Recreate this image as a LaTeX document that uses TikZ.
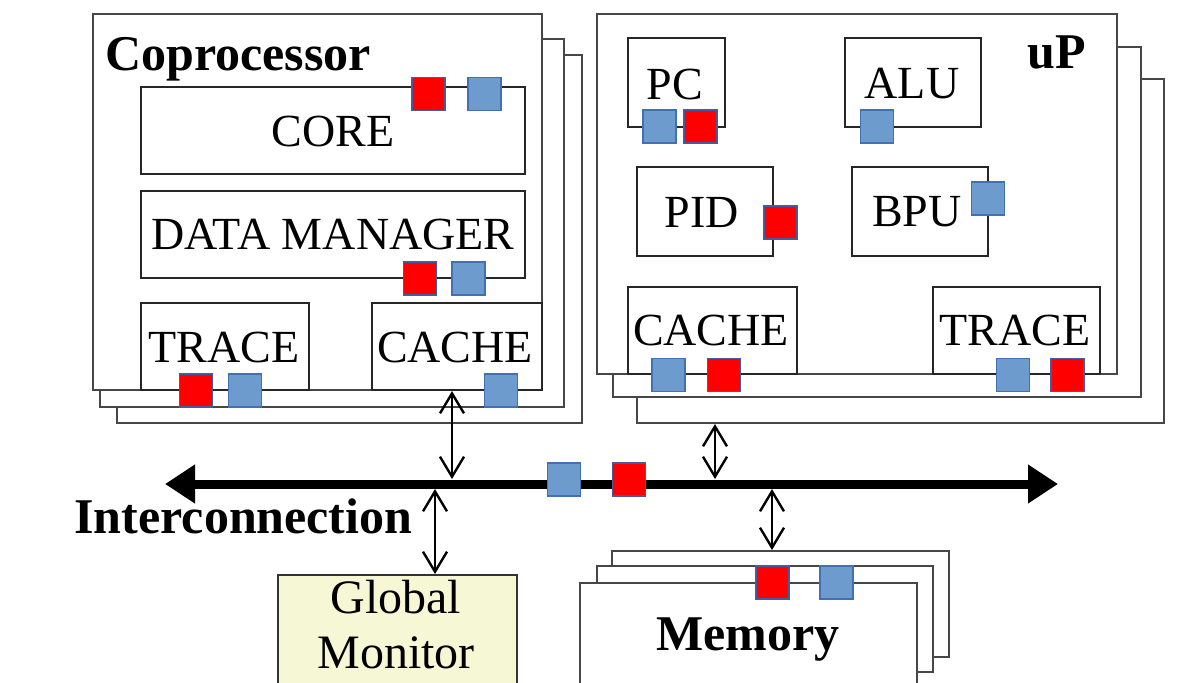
\documentclass[tikz,border=0pt]{standalone}
\usepackage{fontspec}
\setmainfont{Liberation Serif}
\usetikzlibrary{arrows.meta,fit}
\definecolor{redfill}{RGB}{255,0,0}
\definecolor{redborder}{RGB}{70,90,160}
\definecolor{bluefill}{RGB}{110,155,205}
\definecolor{blueborder}{RGB}{65,113,180}
\definecolor{gmfill}{RGB}{245,247,213}
\begin{document}
\begin{tikzpicture}[x=0.5pt,y=-0.5pt,
  frame/.style={draw=black!72,line width=1pt,fill=white,inner sep=0pt},
  box/.style={draw=black!85,line width=1pt,fill=white,inner sep=0pt},
  lbl/.style={font=\fontsize{23}{27}\selectfont,inner sep=0pt},
  ttl/.style={font=\fontsize{25}{30}\selectfont\bfseries,inner sep=0pt},
  rsq/.style={draw=redborder,fill=redfill,line width=0.8pt,minimum size=16.5pt,inner sep=0pt},
  bsq/.style={draw=blueborder,fill=bluefill,line width=0.8pt,minimum size=16.5pt,inner sep=0pt},
  dar/.style={{Straight Barb[length=10pt,width=12pt,line width=1.2pt]}-{Straight Barb[length=10pt,width=12pt,line width=1.2pt]},line width=0.8pt,draw=black},
  bus/.style={{Triangle[length=15pt,width=18.5pt]}-{Triangle[length=15pt,width=18.5pt]},line width=4.5pt}]
\useasboundingbox (0,0) rectangle (1196,682);

% ---------------- Coprocessor ----------------
\node[frame,fit={(117,55)(582,423)}] (cb3) {};
\node[frame,fit={(100,39)(564,407)}] (cb2) {};
\node[frame,fit={(93,14)(542,390)}] (cop) {};
\node[ttl,anchor=base west] (copT) at (105,70) {Coprocessor};

\node[box,fit={(141,87)(525,174)}] (core) {};
\node[lbl] (coreT) at (333,131) {CORE};
\node[box,fit={(141,191)(525,278)}] (dm) {};
\node[lbl] (dmT) at (333,234) {DATA MANAGER};
\node[box,fit={(141,303)(309,390)}] (ctr) {};
\node[lbl] (ctrT) at (224,347) {TRACE};
\node[box,fit={(372,303)(542,390)}] (cca) {};
\node[lbl] (ccaT) at (455,347) {CACHE};

\node[rsq] (s1) at (428.5,94) {};
\node[bsq] (s2) at (484.5,94) {};
\node[rsq] (s3) at (420,278.5) {};
\node[bsq] (s4) at (468.5,278.5) {};
\node[rsq] (s5) at (196,390.5) {};
\node[bsq] (s6) at (245,390.5) {};
\node[bsq] (s7) at (501,390.5) {};

% ---------------- uP ----------------
\node[frame,fit={(637,79)(1164,423)}] (ub3) {};
\node[frame,fit={(613,47)(1141,397)}] (ub2) {};
\node[frame,fit={(597,14)(1117,374)}] (up) {};
\node[ttl,anchor=base west] (upT) at (1027,68) {uP};

\node[box,fit={(628,38)(725,127)}] (pc) {};
\node[lbl] (pcT) at (675,84) {PC};
\node[box,fit={(845,38)(981,127)}] (alu) {};
\node[lbl] (aluT) at (912,84) {ALU};
\node[box,fit={(637,167)(773,256)}] (pid) {};
\node[lbl] (pidT) at (702,212) {PID};
\node[box,fit={(852,167)(988,256)}] (bpu) {};
\node[lbl] (bpuT) at (917,212) {BPU};
\node[box,fit={(628,287)(797,374)}] (uca) {};
\node[lbl] (ucaT) at (711,330) {CACHE};
\node[box,fit={(933,287)(1100,374)}] (utr) {};
\node[lbl] (utrT) at (1015,330) {TRACE};

\node[bsq] (u1) at (659.5,126.5) {};
\node[rsq] (u2) at (700.5,126.5) {};
\node[bsq] (u3) at (877,126.5) {};
\node[rsq] (u4) at (780.5,222.5) {};
\node[bsq] (u5) at (988,198.5) {};
\node[bsq] (u6) at (668.5,375) {};
\node[rsq] (u7) at (724,375) {};
\node[bsq] (u8) at (1013,375) {};
\node[rsq] (u9) at (1067.5,375) {};

% ---------------- Memory ----------------
\node[frame,fit={(612,551)(949,657)}] (mb3) {};
\node[frame,fit={(597,566)(933,672)}] (mb2) {};
\node[frame,fit={(580,583)(917,720)}] (mem) {};
\node[ttl,anchor=base] (memT) at (748,650) {Memory};
\node[rsq] (m1) at (772.5,582.5) {};
\node[bsq] (m2) at (836.5,582.5) {};

% ---------------- Global monitor ----------------
\node[draw=black!80,line width=1pt,fill=gmfill,inner sep=0pt,fit={(278,575)(517,720)}] (gm) {};
\node[font=\fontsize{24}{27.5}\selectfont,align=center,inner sep=0pt] (gmT) at (396,625) {Global\\Monitor};

% ---------------- Interconnection ----------------
\coordinate (busL) at (165,484);
\coordinate (busR) at (1058,484);
\draw[bus] (busL) -- (busR);
\node[ttl,anchor=base west] (icT) at (74,533) {Interconnection};
\node[bsq] (b1) at (564,479.5) {};
\node[rsq] (b2) at (629,479.5) {};

\coordinate (aC) at (452,479);
\coordinate (aG) at (435,489);
\coordinate (aU) at (715,479);
\coordinate (aM) at (772,489);
\draw[dar] (cop.south -| aC) -- (aC);
\draw[dar] (aG) -- (gm.north -| aG);
\draw[dar] (ub3.south -| aU) -- (aU);
\draw[dar] (aM) -- (mb3.north -| aM);
\end{tikzpicture}
\end{document}
